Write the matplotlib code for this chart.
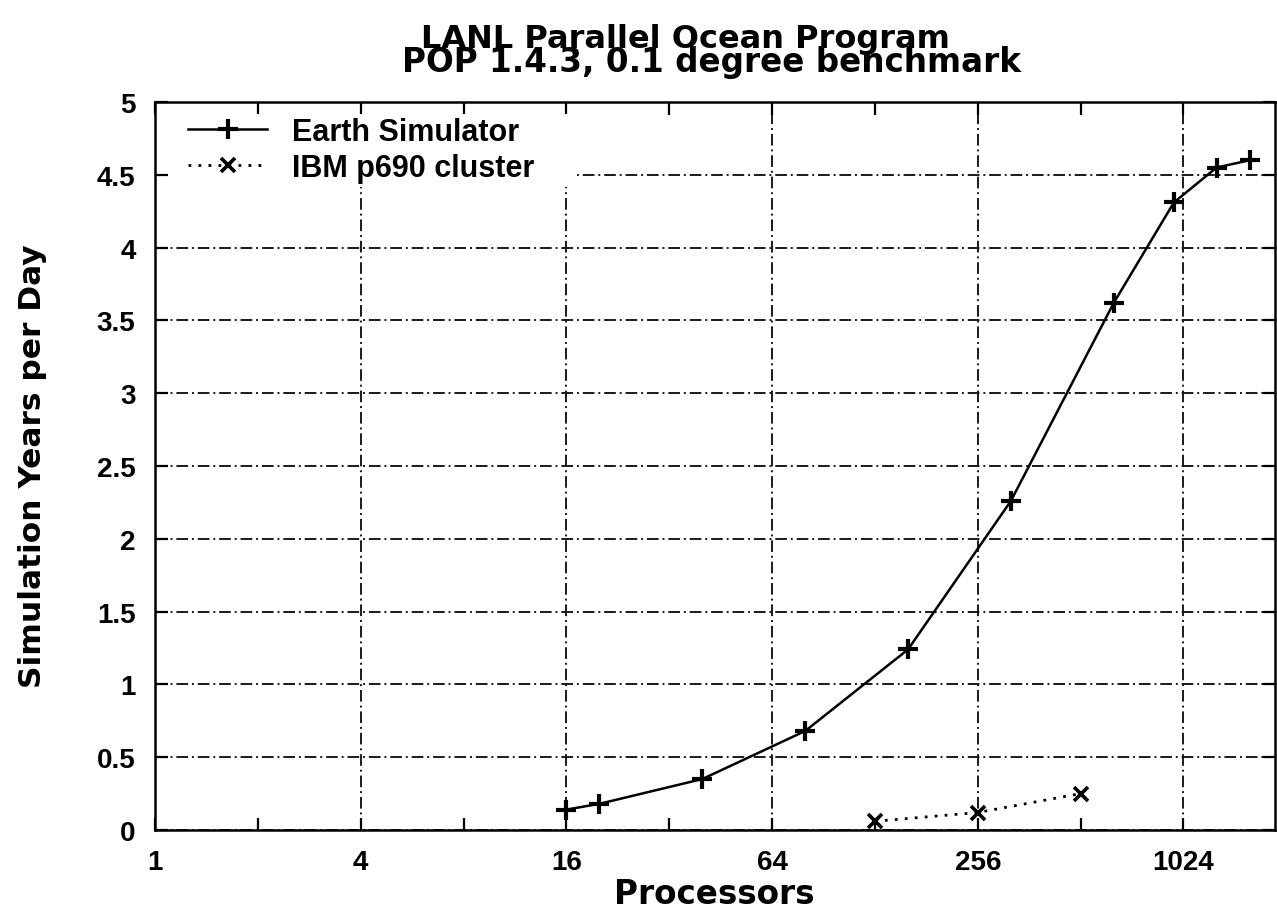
import matplotlib
matplotlib.use("Agg")
import matplotlib.pyplot as plt
from matplotlib.patches import Rectangle
from matplotlib.ticker import FixedLocator, FixedFormatter, NullFormatter

plt.rcParams['font.family'] = ['Liberation Sans', 'DejaVu Sans']
plt.rcParams['font.weight'] = 'bold'
WIDE = ['DejaVu Sans', 'Liberation Sans']

# Data
es_procs = [16, 20, 40, 80, 160, 320, 640, 960, 1280, 1600]
es_years = [0.14, 0.18, 0.35, 0.68, 1.24, 2.26, 3.62, 4.31, 4.55, 4.60]
ibm_procs = [128, 256, 512]
ibm_years = [0.06, 0.12, 0.25]

x_major = [1, 4, 16, 64, 256, 1024]
x_minor = [2, 8, 32, 128, 512]
x_labels = ["1", "4", "16", "64", "256", "1024"]
y_ticks = [0, 0.5, 1, 1.5, 2, 2.5, 3, 3.5, 4, 4.5, 5]
y_labels = ["0", "0.5", "1", "1.5", "2", "2.5", "3", "3.5", "4", "4.5", "5"]

W, H = 1277, 920
fig = plt.figure(figsize=(W / 100, H / 100), dpi=100)
ax_l, ax_r, ax_t, ax_b = 155, 1275, 103, 831
ax = fig.add_axes([ax_l / W, 1 - ax_b / H, (ax_r - ax_l) / W, (ax_b - ax_t) / H])

ax.set_xscale('log', base=2)
ax.set_xlim(1, 2 ** 10.89)
ax.set_ylim(0, 5)

ax.plot(es_procs, es_years, color='black', lw=1.8, marker='+', ms=14, mew=3,
        label='Earth Simulator', zorder=3)
ax.plot(ibm_procs, ibm_years, color='black', lw=2.0, ls=(0, (1, 2.6)), marker='x',
        ms=10, mew=2.6, label='IBM p690 cluster', zorder=3)

ax.xaxis.set_major_locator(FixedLocator(x_major))
ax.xaxis.set_major_formatter(FixedFormatter(x_labels))
ax.xaxis.set_minor_locator(FixedLocator(x_minor))
ax.xaxis.set_minor_formatter(NullFormatter())
ax.yaxis.set_major_locator(FixedLocator(y_ticks))
ax.yaxis.set_major_formatter(FixedFormatter(y_labels))
ax.yaxis.set_minor_locator(FixedLocator([]))

ax.grid(True, which='major', color='#1a1a1a', lw=1.4, linestyle=(0, (6, 2, 1, 2)))

ax.tick_params(which='both', direction='in', top=True, right=True, width=1.6,
               labelsize=20, colors='black', length=9)
ax.tick_params(axis='x', pad=14)
ax.tick_params(axis='y', pad=14)
for s in ax.spines.values():
    s.set_linewidth(1.8)
for lab in ax.get_xticklabels() + ax.get_yticklabels():
    lab.set_fontweight('bold')

# white area behind the key, hiding the grid there
aw, ah = ax_r - ax_l, ax_b - ax_t
ax.add_patch(Rectangle(((168 - ax_l) / aw, (ax_b - 188) / ah),
                       (575 - 168) / aw, (188 - 115) / ah,
                       transform=ax.transAxes, facecolor='white', edgecolor='none',
                       zorder=2.6))

leg = ax.legend(loc='upper left', bbox_to_anchor=((188 - ax_l) / aw, (ax_b - 118) / ah),
                frameon=False, fontsize=22, handlelength=2.6, numpoints=1,
                borderaxespad=0, borderpad=0, labelspacing=0.18, handletextpad=0.8)
leg.set_zorder(5)
for t in leg.get_texts():
    t.set_fontweight('bold')

fig.text(685 / W, 1 - 48 / H, 'LANL Parallel Ocean Program', ha='center', va='baseline',
         fontsize=23, fontweight='bold', family=WIDE)
fig.text(712 / W, 1 - 72 / H, 'POP 1.4.3, 0.1 degree benchmark', ha='center', va='baseline',
         fontsize=23.5, fontweight='bold', family=WIDE)
fig.text(714 / W, 1 - 904 / H, 'Processors', ha='center', va='baseline',
         fontsize=23.5, fontweight='bold', family=WIDE)
fig.text(33 / W, 1 - 466 / H, 'Simulation Years per Day', ha='center', va='center',
         rotation=90, fontsize=22.5, fontweight='bold', family=WIDE)

fig.savefig('out.png', dpi=100)
